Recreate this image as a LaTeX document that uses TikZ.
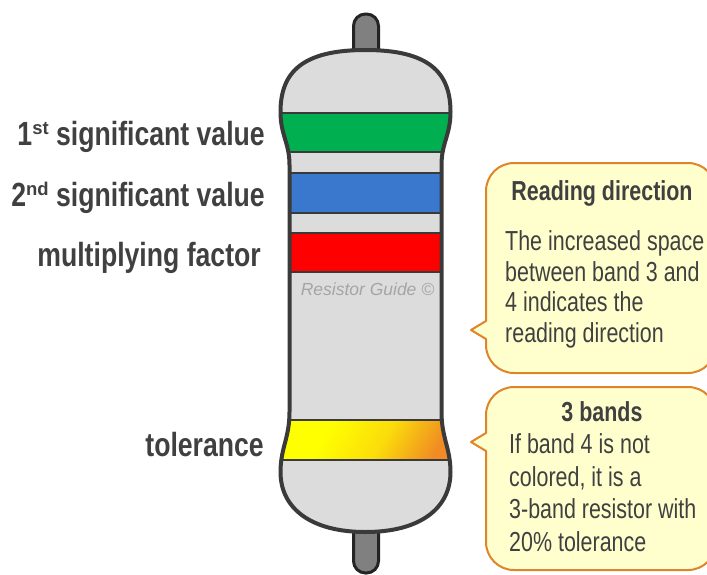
\documentclass[tikz,border=0pt]{standalone}
\usepackage{fontspec}
\setmainfont{Liberation Sans}
\newfontfamily\narrowsans[FakeStretch=0.78]{Liberation Sans}
\newfontfamily\labelsans[FakeStretch=0.795]{Liberation Sans}

\definecolor{bodygray}{RGB}{220,220,220}
\definecolor{bodyline}{RGB}{58,58,58}
\definecolor{leadgray}{RGB}{128,128,128}
\definecolor{leadline}{RGB}{36,36,36}
\definecolor{bandgreen}{RGB}{0,176,80}
\definecolor{bandblue}{RGB}{58,120,206}
\definecolor{bandred}{RGB}{255,0,0}
\definecolor{bandyellow}{RGB}{255,255,0}
\definecolor{bandorange}{RGB}{240,140,35}
\definecolor{noteyellow}{RGB}{255,255,206}
\definecolor{noteedge}{RGB}{222,132,42}
\definecolor{ink}{RGB}{64,64,64}
\definecolor{markgray}{RGB}{165,165,165}

% yellow that warms to orange towards one end
\pgfdeclarehorizontalshading{tolglow}{100bp}{%
  color(0bp)=(bandyellow); color(25bp)=(bandyellow); color(36bp)=(bandyellow);
  color(56bp)=(bandyellow!70!bandorange);
  color(75bp)=(bandorange); color(100bp)=(bandorange)}

% outline of the resistor body (centre line of the stroke)
\newcommand\resistorbody{%
  (365.5,50) .. controls (428.5,50) and (450.5,72) .. (450.5,112)
  .. controls (450.5,135) and (441.5,143) .. (441.5,165)
  -- (441.5,412)
  .. controls (441.5,438) and (450.5,448) .. (450.5,472)
  .. controls (450.5,508) and (420.5,532) .. (365.5,532)
  .. controls (310.5,532) and (280.5,508) .. (280.5,472)
  .. controls (280.5,448) and (289.5,438) .. (289.5,412)
  -- (289.5,165)
  .. controls (289.5,143) and (280.5,135) .. (280.5,112)
  .. controls (280.5,72) and (302.5,50) .. (365.5,50) -- cycle}

% ordinal suffix set as a small raised word
\newcommand\bandsup[1]{\raisebox{11pt}{\normalfont\bfseries\fontsize{18.5}{20}\selectfont #1}}

\begin{document}
\begin{tikzpicture}[x=1pt,y=-1pt,
  bodyoutline/.style={draw=bodyline, line width=4pt, line join=round},
  leadwire/.style={fill=leadgray, draw=leadline, line width=3pt, rounded corners=12pt},
  bandedge/.style={draw=bodyline, line width=2pt},
  bandlabel/.style={anchor=base east, inner sep=0, text=ink,
    font=\labelsans\bfseries\fontsize{33.5}{36}\selectfont},
  callout/.style={fill=noteyellow, draw=noteedge, line width=2pt, line join=round},
  notetitle/.style={anchor=base, inner sep=0, text=ink,
    font=\narrowsans\bfseries\fontsize{27.5}{31}\selectfont},
  notebody/.style={anchor=base west, inner sep=0, text=ink,
    font=\narrowsans\fontsize{27.5}{31}\selectfont},
  watermark/.style={anchor=base, inner sep=0, text=markgray,
    font=\itshape\fontsize{17.5}{20}\selectfont}]

\useasboundingbox (0,0) rectangle (707,574);

% leads
\draw[leadwire] (353.5,120) -- (353.5,14) -- (378.5,14) -- (378.5,120) -- cycle;
\draw[leadwire] (353.5,470) -- (353.5,573) -- (378.5,573) -- (378.5,470) -- cycle;

% body
\fill[bodygray] \resistorbody;
\begin{scope}
  \clip \resistorbody;
  \fill[bandgreen] (270,112.5) rectangle (460,152);
  \fill[bandblue]  (270,173) rectangle (460,212.5);
  \fill[bandred]   (270,232.5) rectangle (460,272);
  \shade[shading=tolglow, shading angle=-30] (270,420) rectangle (460,459.5);
  \foreach \yy in {112.5,152,173,212.5,232.5,272,420,459.5}
    \draw[bandedge] (270,\yy) -- (460,\yy);
\end{scope}
\draw[bodyoutline] \resistorbody;

\node[watermark] (mark) at (367.5,295) {Resistor Guide ©};

% band labels
\node[bandlabel] (first)  at (265,145)   {1\bandsup{st} significant value};
\node[bandlabel] (second) at (265,206)   {2\bandsup{nd} significant value};
\node[bandlabel] (mult)   at (261,266.5) {multiplying factor};
\node[bandlabel] (tol)    at (264,456.5) {tolerance};

% callout: reading direction
\draw[callout] (471,330) -- (486,321) -- (486,191)
  .. controls (486,175.5) and (498.5,163) .. (514,163) -- (688,163)
  .. controls (703.5,163) and (716,175.5) .. (716,191) -- (716,345)
  .. controls (716,360.5) and (703.5,373) .. (688,373) -- (514,373)
  .. controls (498.5,373) and (486,360.5) .. (486,345) -- (486,339) -- cycle;
\node[notetitle] (dirtitle) at (602,200) {Reading direction};
\node[notebody] (dir1) at (505,250) {The increased space};
\node[notebody] (dir2) at (505,281) {between band 3 and};
\node[notebody] (dir3) at (505,311.5) {4 indicates the};
\node[notebody] (dir4) at (505,342) {reading direction};

% callout: three bands
\draw[callout] (471,442) -- (486,433) -- (486,415)
  .. controls (486,399.5) and (498.5,387) .. (514,387) -- (688,387)
  .. controls (703.5,387) and (716,399.5) .. (716,415) -- (716,542)
  .. controls (716,557.5) and (703.5,570) .. (688,570) -- (514,570)
  .. controls (498.5,570) and (486,557.5) .. (486,542) -- (486,451) -- cycle;
\node[notetitle] (bandstitle) at (602,421) {3 bands};
\node[notebody] (three1) at (509,453.5) {If band 4 is not};
\node[notebody] (three2) at (509,486) {colored, it is a};
\node[notebody] (three3) at (509,518.5) {3-band resistor with};
\node[notebody] (three4) at (509,551) {20\% tolerance};

\end{tikzpicture}
\end{document}
